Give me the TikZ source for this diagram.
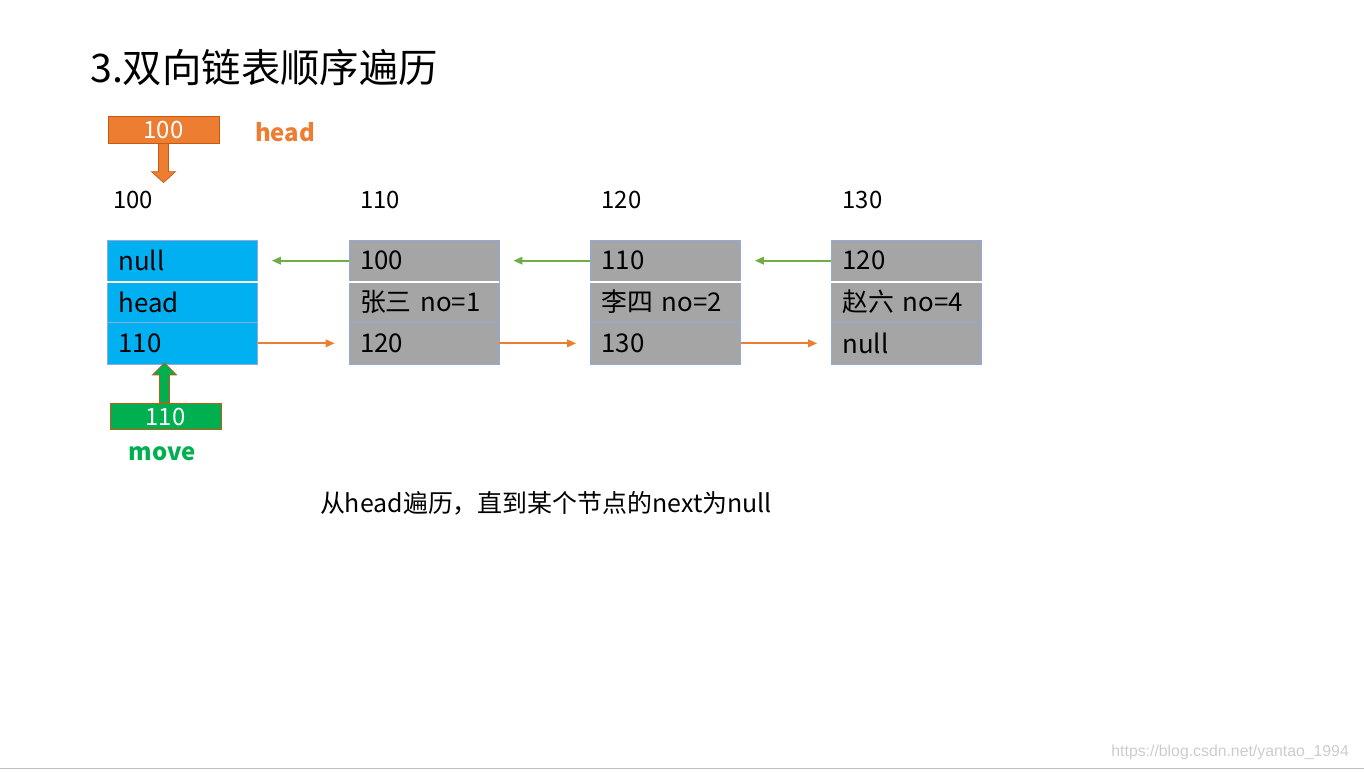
\documentclass[tikz,border=0pt]{standalone}
\usepackage{fontspec}
\setmainfont{Noto Sans CJK SC}
\newfontfamily\wmfont{Liberation Sans}
\usetikzlibrary{arrows.meta}

\definecolor{orangeBox}{HTML}{ED7D31}
\definecolor{orangeEdge}{HTML}{C55A11}
\definecolor{greenBox}{HTML}{00B050}
\definecolor{blueBox}{HTML}{00B0F0}
\definecolor{grayBox}{HTML}{A5A5A5}
\definecolor{edgeBlue}{HTML}{8FAADC}
\definecolor{prevGreen}{HTML}{70AD47}

\tikzset{
	feld/.style={draw=edgeBlue, minimum width=3cm, minimum height=0.8267cm,
		text width=2.56cm, inner xsep=0.22cm, inner ysep=0pt, align=left,
		font=\fontsize{14.7}{16}\selectfont},
	zeiger/.style={draw=orangeEdge, text=white, minimum width=2.22cm,
		minimum height=0.53cm, inner sep=0pt, font=\fontsize{13.6}{15}\selectfont},
	adresse/.style={font=\fontsize{13.6}{15}\selectfont},
	vor/.style={draw=orangeBox, line width=1pt, shorten >=0.28cm,
		-{Triangle[length=0.18cm,width=0.15cm]}},
	zurueck/.style={draw=prevGreen, line width=1pt, shorten >=0.28cm,
		-{Triangle[length=0.18cm,width=0.15cm]}}
}

\begin{document}
\begin{tikzpicture}[x=0.02cm, y=-0.02cm]
	\useasboundingbox (0,0) rectangle (1364,771);
	% Titel
	\node[anchor=west, font=\fontsize{22.4}{24}\selectfont] (titel) at (84,68)
	{3.双向链表顺序遍历};

	% Zeiger head
	\node[zeiger, fill=orangeBox] (hb) at (163.5,130) {100};
	\node[text=orangeBox, font=\fontsize{13.6}{15}\selectfont\bfseries] (hl) at
	(285,132) {head};
	\filldraw[fill=orangeBox, draw=orangeEdge] (hb.south) ++(-5,0) -- ++(0,28)
	-- ++(-7,0) -- ++(12,11) -- ++(12,-11) -- ++(-7,0) -- ++(0,-28) -- cycle;

	% erster Knoten
	\node[adresse] (adr1) at (133,200) {100};
	\node[feld, fill=blueBox] (n1a) at (182.5,260.67) {null};
	\node[feld, fill=blueBox] (n1b) at (182.5,302) {head};
	\node[feld, fill=blueBox] (n1c) at (182.5,343.33) {110};
	\draw[white, line width=1pt] (n1a.south west) -- (n1a.south east);

	% weitere Knoten
	\foreach \i/\x/\adr/\v/\name/\n in {2/424/110/100/张三 no=1/120,
		3/665.5/120/110/李四 no=2/130, 4/906.5/130/120/赵六 no=4/null}
	{
		\node[adresse] (adr\i) at (\x-44, 200) {\adr};
		\node[feld, fill=grayBox] (n\i a) at (\x, 260.67) {\v};
		\node[feld, fill=grayBox] (n\i b) at (\x, 302) {\name};
		\node[feld, fill=grayBox] (n\i c) at (\x, 343.33) {\n};
		\draw[white, line width=1pt] (n\i a.south west) -- (n\i a.south east);
	}

	% Verweise
	\draw[zurueck] (n2a.west) -- (n1a.east);
	\draw[zurueck] (n3a.west) -- (n2a.east);
	\draw[zurueck] (n4a.west) -- (n3a.east);
	\draw[vor] (n1c.east) -- (n2c.west);
	\draw[vor] (n2c.east) -- (n3c.west);
	\draw[vor] (n3c.east) -- (n4c.west);

	% Zeiger move
	\node[zeiger, fill=greenBox] (mb) at (165.5,416.5) {110};
	\node[text=greenBox, font=\fontsize{13.6}{15}\selectfont\bfseries] (ml) at
	(162,454) {move};
	\filldraw[fill=greenBox, draw=orangeEdge] (mb.north) ++(-6,0) -- ++(0,-28)
	-- ++(-7,0) -- ++(12,-12) -- ++(12,12) -- ++(-7,0) -- ++(0,28) -- cycle;

	% Beschreibung
	\node[font=\fontsize{14.2}{16}\selectfont] (text) at (546,503)
	{从head遍历，直到某个节点的next为null};
	\node[anchor=east, text=gray!40, font=\wmfont\fontsize{9}{11}\selectfont]
	(wz) at (1355,752) {https://blog.csdn.net/yantao\_1994};
	\draw[gray!50] (0,768) -- (1364,768);
\end{tikzpicture}
\end{document}
